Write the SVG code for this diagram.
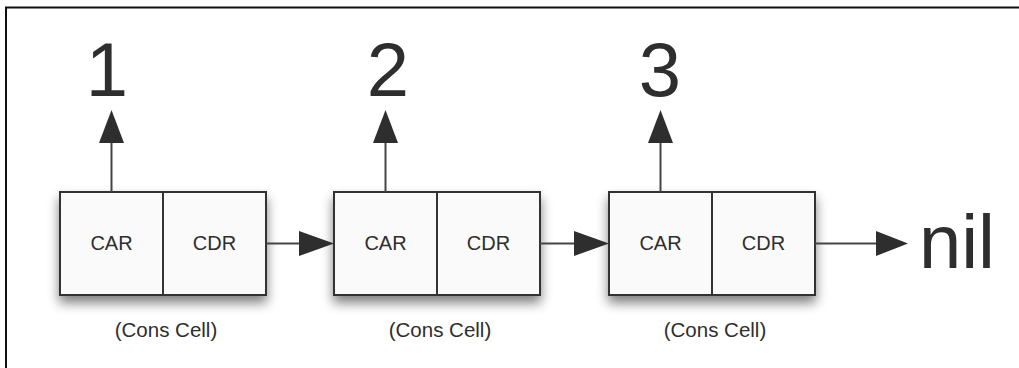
<svg xmlns="http://www.w3.org/2000/svg" width="1019" height="368" viewBox="0 0 1019 368">
<style>
.cell{fill:#fafafa;stroke:#333;stroke-width:2}
.div{stroke:#333;stroke-width:2}
.lbl{font-family:"Liberation Sans",Arial,sans-serif;font-size:20px;fill:#2e2e2e;text-anchor:middle}
.cap{font-family:"Liberation Sans",Arial,sans-serif;font-size:20.5px;fill:#2e2e2e;text-anchor:middle}
.big{font-family:"Liberation Sans",Arial,sans-serif;font-size:76px;fill:#2e2e2e;text-anchor:middle}
.conn{stroke:#444;stroke-width:2;fill:none}
.head{fill:#2e2e2e}
</style>
<defs>
<filter id="sh" x="-20%" y="-20%" width="140%" height="160%">
<feGaussianBlur in="SourceAlpha" stdDeviation="6"/>
<feOffset dx="0" dy="7" result="b"/>
<feComponentTransfer><feFuncA type="linear" slope="0.5"/></feComponentTransfer>
<feMerge><feMergeNode/><feMergeNode in="SourceGraphic"/></feMerge>
</filter>
</defs>
<rect width="1019" height="368" fill="#fff"/>
<path d="M6 368 V7.5 H1019" stroke="#111" stroke-width="2" fill="none"/>
<g id="cell1">
<rect class="cell" x="60" y="192" width="206" height="103" filter="url(#sh)"/>
<line class="div" x1="163" y1="192" x2="163" y2="295"/>
<text class="lbl" x="111.5" y="250">CAR</text>
<text class="lbl" x="214.5" y="250">CDR</text>
<text class="cap" x="166" y="337">(Cons Cell)</text>
</g>
<g id="cell2">
<rect class="cell" x="334" y="192" width="206" height="103" filter="url(#sh)"/>
<line class="div" x1="437" y1="192" x2="437" y2="295"/>
<text class="lbl" x="385.5" y="250">CAR</text>
<text class="lbl" x="488.5" y="250">CDR</text>
<text class="cap" x="440" y="337">(Cons Cell)</text>
</g>
<g id="cell3">
<rect class="cell" x="609" y="192" width="206" height="103" filter="url(#sh)"/>
<line class="div" x1="712" y1="192" x2="712" y2="295"/>
<text class="lbl" x="660.5" y="250">CAR</text>
<text class="lbl" x="763.5" y="250">CDR</text>
<text class="cap" x="715" y="337">(Cons Cell)</text>
</g>
<g id="val1"><text class="big" x="107" y="96">1</text></g>
<g id="val2"><text class="big" x="388" y="96">2</text></g>
<g id="val3"><text class="big" x="660" y="96">3</text></g>
<g id="nil"><text class="big" x="957" y="268">nil</text></g>
<g id="connectors">
<line class="conn" x1="111.5" y1="192" x2="111.5" y2="140"/>
<polygon class="head" points="111.5,110 99,143 124,143"/>
<line class="conn" x1="385.5" y1="192" x2="385.5" y2="140"/>
<polygon class="head" points="385.5,110 373,143 398,143"/>
<line class="conn" x1="660.5" y1="192" x2="660.5" y2="140"/>
<polygon class="head" points="660.5,110 648,143 673,143"/>
<line class="conn" x1="266" y1="243.5" x2="302" y2="243.5"/>
<polygon class="head" points="334,243.5 299,231 299,256"/>
<line class="conn" x1="540" y1="243.5" x2="576" y2="243.5"/>
<polygon class="head" points="609,243.5 574,231 574,256"/>
<line class="conn" x1="815" y1="243.5" x2="878" y2="243.5"/>
<polygon class="head" points="908,243.5 876,231 876,256"/>
</g>
</svg>
